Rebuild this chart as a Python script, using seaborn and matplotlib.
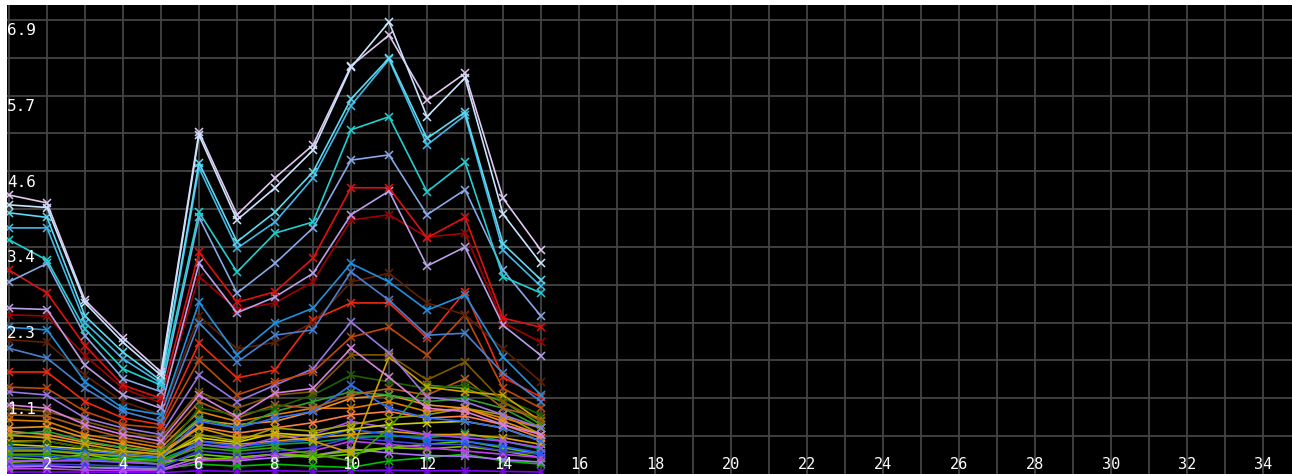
import numpy as np
import pandas as pd
import matplotlib
matplotlib.use("Agg")
import matplotlib.pyplot as plt
import seaborn as sns

# ---- data ----
x_values = list(range(1, 16))
x_tick_values = list(range(2, 35, 2))
y_tick_values = [1.15, 2.30, 3.45, 4.60, 5.75, 6.90]
y_tick_labels = ["1.1", "2.3", "3.4", "4.6", "5.7", "6.9"]

series_names = [f"s{i:02d}" for i in range(1, 40)]
series_colors = [
    "#e0c8f0", "#c8e4ff", "#60d8f0", "#40b8e8", "#20d0d0", "#88a8e8",
    "#e01010", "#b8a0e8", "#a00000", "#2090e0", "#4a80d0", "#602000",
    "#f02810", "#c04808", "#9878e0", "#d880e0", "#e08000", "#805800",
    "#d0a000", "#206000", "#40a000", "#3070f0", "#f09020", "#a050f0",
    "#60d000", "#a0a000", "#00c000", "#c040f0", "#4040e0", "#e0a000",
    "#30a030", "#b06020", "#8000ff", "#2060ff", "#80c000", "#ff8040",
    "#b070ff", "#00a060", "#d0d000",
]
s01 = [4.24, 4.12, 2.64, 2.07, 1.55, 5.20, 3.94, 4.50, 5.00, 6.20, 6.67, 5.68, 6.09, 4.19, 3.40]
s02 = [4.09, 4.05, 2.60, 2.00, 1.50, 5.15, 3.86, 4.35, 4.92, 6.18, 6.87, 5.43, 6.02, 3.95, 3.20]
s03 = [3.97, 3.90, 2.40, 1.85, 1.42, 4.73, 3.53, 3.98, 4.59, 5.70, 6.32, 5.10, 5.50, 3.50, 2.95]
s04 = [3.74, 3.74, 2.30, 1.75, 1.38, 4.65, 3.43, 3.83, 4.50, 5.60, 6.30, 5.00, 5.45, 3.40, 2.85]
s05 = [3.56, 3.25, 2.20, 1.60, 1.35, 3.98, 3.07, 3.66, 3.83, 5.23, 5.43, 4.29, 4.74, 3.00, 2.75]
s06 = [2.92, 3.20, 2.10, 1.45, 1.25, 3.90, 2.75, 3.20, 3.74, 4.77, 4.85, 3.94, 4.32, 3.10, 2.40]
s07 = [3.10, 2.75, 1.95, 1.35, 1.15, 3.37, 2.61, 2.77, 3.28, 4.35, 4.35, 3.59, 3.90, 2.37, 2.23]
s08 = [2.52, 2.50, 1.65, 1.20, 1.00, 3.20, 2.45, 2.69, 3.05, 3.94, 4.30, 3.16, 3.45, 2.26, 1.80]
s09 = [2.42, 2.40, 1.80, 1.30, 1.08, 3.00, 2.50, 2.60, 2.92, 3.86, 3.94, 3.60, 3.66, 2.30, 2.00]
s10 = [2.23, 2.19, 1.40, 1.00, 0.90, 2.61, 1.81, 2.29, 2.52, 3.20, 2.92, 2.49, 2.72, 1.78, 1.20]
s11 = [1.91, 1.76, 1.30, 0.95, 0.80, 2.30, 1.70, 2.11, 2.19, 3.07, 2.64, 2.11, 2.14, 1.53, 1.10]
s12 = [2.04, 2.00, 1.50, 1.10, 0.90, 2.40, 1.90, 2.00, 2.30, 2.92, 3.05, 2.60, 2.42, 1.90, 1.40]
s13 = [1.55, 1.55, 1.10, 0.85, 0.75, 1.99, 1.46, 1.58, 2.34, 2.60, 2.60, 2.07, 2.77, 1.47, 1.17]
s14 = [1.32, 1.30, 0.95, 0.75, 0.70, 1.73, 1.20, 1.40, 1.55, 2.08, 2.23, 1.81, 2.42, 1.30, 1.00]
s15 = [1.25, 1.20, 0.85, 0.70, 0.60, 1.50, 1.10, 1.35, 1.60, 2.31, 1.84, 1.17, 1.10, 0.90, 0.70]
s16 = [1.05, 1.00, 0.75, 0.60, 0.50, 1.20, 0.87, 1.23, 1.30, 1.91, 1.47, 1.00, 0.95, 0.75, 0.60]
s17 = [0.82, 0.80, 0.60, 0.50, 0.40, 0.95, 0.80, 0.90, 1.00, 1.00, 1.10, 0.95, 1.00, 0.85, 0.70]
s18 = [1.00, 0.95, 0.80, 0.65, 0.55, 1.25, 1.00, 1.20, 1.25, 1.81, 1.81, 1.43, 1.70, 1.10, 0.80]
s19 = [0.59, 0.55, 0.45, 0.35, 0.30, 0.70, 0.55, 0.60, 0.50, 0.32, 1.78, 1.32, 1.25, 1.20, 0.80]
s20 = [0.47, 0.50, 0.40, 0.35, 0.30, 1.00, 0.90, 1.00, 1.20, 1.50, 1.40, 1.30, 1.35, 1.15, 0.90]
s21 = [0.30, 0.30, 0.25, 0.20, 0.20, 0.40, 0.35, 0.40, 0.30, 0.20, 0.70, 1.35, 1.30, 1.10, 0.75]
s22 = [0.40, 0.40, 0.35, 0.30, 0.25, 0.80, 0.70, 0.85, 0.95, 1.35, 1.00, 0.85, 0.80, 0.70, 0.50]
s23 = [0.70, 0.72, 0.55, 0.45, 0.35, 0.82, 0.75, 0.80, 0.95, 1.15, 1.20, 1.05, 1.00, 0.80, 0.60]
s24 = [0.20, 0.20, 0.20, 0.18, 0.15, 0.45, 0.40, 0.55, 0.60, 0.80, 0.70, 0.60, 0.55, 0.50, 0.40]
s25 = [0.25, 0.22, 0.30, 0.20, 0.15, 0.30, 0.25, 0.30, 0.25, 0.30, 0.40, 0.45, 0.50, 0.40, 0.30]
s26 = [0.35, 0.35, 0.30, 0.28, 0.25, 0.60, 0.50, 0.70, 0.65, 0.75, 0.85, 0.90, 1.00, 0.90, 0.60]
s27 = [0.10, 0.12, 0.10, 0.10, 0.08, 0.15, 0.12, 0.15, 0.12, 0.10, 0.20, 0.25, 0.30, 0.20, 0.15]
s28 = [0.08, 0.08, 0.06, 0.05, 0.05, 0.20, 0.22, 0.30, 0.35, 0.50, 0.45, 0.40, 0.35, 0.30, 0.25]
s29 = [0.15, 0.15, 0.14, 0.12, 0.10, 0.35, 0.30, 0.35, 0.40, 0.55, 0.50, 0.45, 0.45, 0.35, 0.30]
s30 = [0.50, 0.50, 0.40, 0.33, 0.30, 0.50, 0.45, 0.50, 0.55, 0.60, 0.65, 0.60, 0.60, 0.55, 0.45]
s31 = [0.60, 0.65, 0.50, 0.40, 0.35, 0.85, 0.70, 0.95, 1.10, 1.25, 1.20, 1.10, 1.15, 1.00, 0.70]
s32 = [0.90, 0.88, 0.70, 0.55, 0.45, 1.10, 0.85, 1.05, 1.00, 1.20, 1.30, 1.20, 1.45, 1.00, 0.85]
s33 = [0.03, 0.03, 0.03, 0.02, 0.02, 0.05, 0.04, 0.05, 0.04, 0.05, 0.06, 0.05, 0.05, 0.04, 0.03]
s34 = [0.28, 0.27, 0.22, 0.18, 0.15, 0.50, 0.42, 0.48, 0.52, 0.68, 0.60, 0.52, 0.50, 0.42, 0.32]
s35 = [0.18, 0.20, 0.22, 0.24, 0.20, 0.22, 0.25, 0.30, 0.28, 0.35, 0.40, 0.38, 0.42, 0.35, 0.25]
s36 = [0.65, 0.60, 0.48, 0.40, 0.33, 0.72, 0.62, 0.70, 0.78, 0.90, 0.95, 0.85, 0.88, 0.75, 0.55]
s37 = [0.12, 0.12, 0.10, 0.08, 0.07, 0.25, 0.20, 0.25, 0.28, 0.38, 0.32, 0.28, 0.27, 0.22, 0.18]
s38 = [0.38, 0.36, 0.32, 0.25, 0.22, 0.45, 0.38, 0.45, 0.48, 0.55, 0.58, 0.55, 0.62, 0.50, 0.38]
s39 = [0.45, 0.42, 0.38, 0.30, 0.26, 0.55, 0.48, 0.62, 0.58, 0.68, 0.75, 0.78, 0.80, 0.70, 0.50]
series_values = [s01, s02, s03, s04, s05, s06, s07, s08, s09, s10, s11, s12, s13, s14, s15,
                 s16, s17, s18, s19, s20, s21, s22, s23, s24, s25, s26, s27, s28, s29, s30,
                 s31, s32, s33, s34, s35, s36, s37, s38, s39]

rows = []
for name, vals in zip(series_names, series_values):
    for xv, yv in zip(x_values, vals):
        rows.append({"series": name, "x": xv, "y": yv})
df = pd.DataFrame(rows)
palette = dict(zip(series_names, series_colors))

# ---- figure ----
sns.set_style("dark")
plt.rcParams["font.family"] = ["DejaVu Sans Mono", "DejaVu Sans"]
W, H = 1292, 474
fig = plt.figure(figsize=(W / 100, H / 100), dpi=100, facecolor="white")
ax = fig.add_axes([7 / W, 0, (W - 7) / W, (H - 5) / H])
ax.set_facecolor("black")

ax.set_xlim(1 - 2 / 38, 1 - 2 / 38 + (W - 7) / 38)
ax.set_ylim(0, (H - 5) / 65.8)
ax.set_xticks(np.arange(1, 35, 1))
ax.set_yticks(np.arange(0.575, 7.2, 0.575))
ax.grid(True, color="#444444", linewidth=1.3)
ax.tick_params(length=0, labelbottom=False, labelleft=False)
for sp in ax.spines.values():
    sp.set_visible(False)
ax.set_axisbelow(True)

low_first = sorted(series_names, key=lambda n: max(dict(zip(series_names, series_values))[n]))
for name in low_first:
    sub = df[df["series"] == name]
    c = palette[name]
    sns.lineplot(data=sub, x="x", y="y", ax=ax, color=c,
                 marker="x", markersize=6, markeredgewidth=1.1,
                 markeredgecolor=c, markerfacecolor=c,
                 linewidth=1.2, legend=False, zorder=3)

ax.set_xlabel("")
ax.set_ylabel("")

for xv in x_tick_values:
    ax.text(xv, 0.15, str(xv), color="white", fontsize=11,
            ha="center", va="center", zorder=10)
for yv, lab in zip(y_tick_values, y_tick_labels):
    ax.annotate(lab, xy=(0, yv), xycoords=("axes fraction", "data"),
                xytext=(0, -2.5), textcoords="offset points",
                color="white", fontsize=11.5, ha="left", va="top", zorder=10)

fig.savefig("out.png", dpi=100, facecolor="white")
